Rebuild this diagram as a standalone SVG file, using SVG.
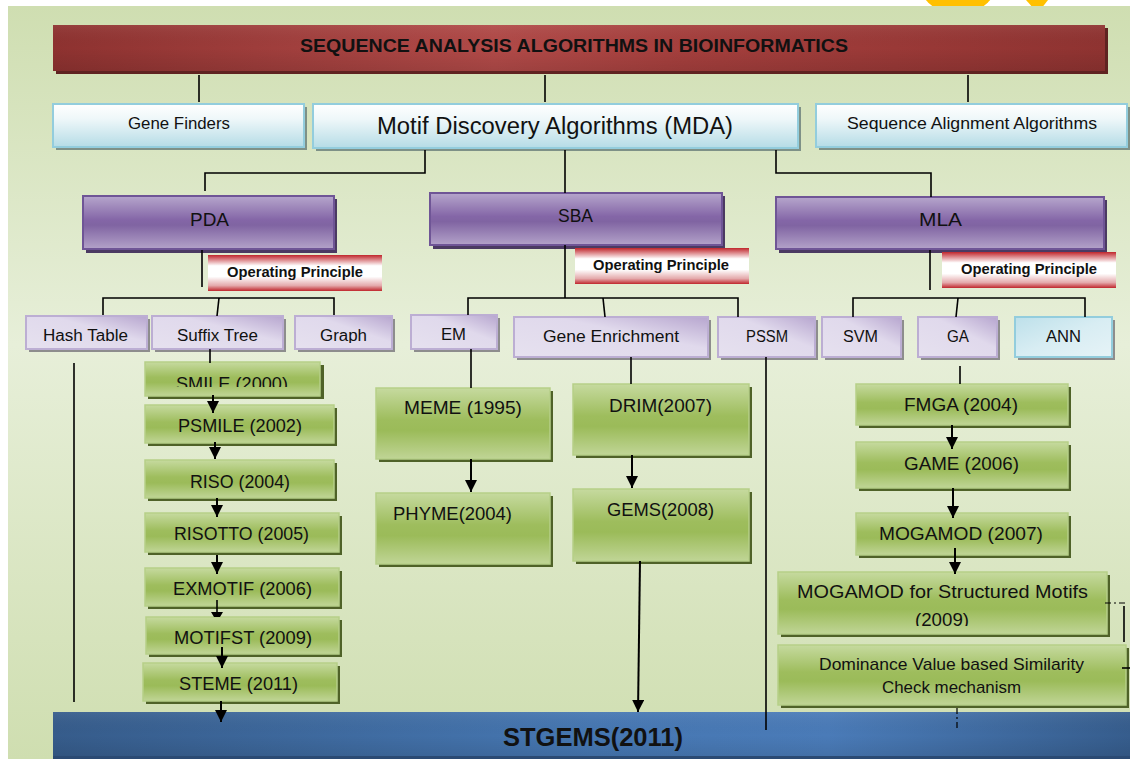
<svg xmlns="http://www.w3.org/2000/svg" width="1130" height="759" viewBox="0 0 1130 759">
  <defs>
    <linearGradient id="gBg" x1="0" y1="0" x2="0" y2="1">
      <stop offset="0" stop-color="#cfdeb1"/>
      <stop offset="0.45" stop-color="#e7efd9"/>
      <stop offset="1" stop-color="#cfdeb0"/>
    </linearGradient>
    <linearGradient id="gTitle" x1="0" y1="0" x2="1" y2="0">
      <stop offset="0" stop-color="#8e3230"/>
      <stop offset="0.42" stop-color="#b14a48"/>
      <stop offset="0.6" stop-color="#a53f3d"/>
      <stop offset="1" stop-color="#8f3331"/>
    </linearGradient>
    <linearGradient id="gShadeV" x1="0" y1="0" x2="0" y2="1">
      <stop offset="0" stop-color="#ffffff" stop-opacity="0.06"/>
      <stop offset="0.5" stop-color="#000000" stop-opacity="0"/>
      <stop offset="1" stop-color="#000000" stop-opacity="0.1"/>
    </linearGradient>
    <linearGradient id="gLb" x1="0" y1="0" x2="0" y2="1">
      <stop offset="0" stop-color="#ffffff"/>
      <stop offset="0.35" stop-color="#eef7f9"/>
      <stop offset="1" stop-color="#b5dce6"/>
    </linearGradient>
    <linearGradient id="gPur" x1="0" y1="0" x2="0" y2="1">
      <stop offset="0" stop-color="#b6a6cc"/>
      <stop offset="0.45" stop-color="#8466a7"/>
      <stop offset="0.55" stop-color="#8064a2"/>
      <stop offset="1" stop-color="#b3a2c9"/>
    </linearGradient>
    <linearGradient id="gOp" x1="0" y1="0" x2="0" y2="1">
      <stop offset="0" stop-color="#c0262c"/>
      <stop offset="0.3" stop-color="#ffffff"/>
      <stop offset="0.6" stop-color="#ffffff"/>
      <stop offset="0.85" stop-color="#e4a9ab"/>
      <stop offset="1" stop-color="#c0262c"/>
    </linearGradient>
    <linearGradient id="gLp" x1="0" y1="1" x2="1" y2="0">
      <stop offset="0" stop-color="#e6e1ef"/>
      <stop offset="0.6" stop-color="#e0d9ec"/>
      <stop offset="1" stop-color="#b7a6cf"/>
    </linearGradient>
    <linearGradient id="gAnn" x1="0" y1="0" x2="1" y2="1">
      <stop offset="0" stop-color="#bde0ea"/>
      <stop offset="0.5" stop-color="#d8edf3"/>
      <stop offset="1" stop-color="#e6f3f7"/>
    </linearGradient>
    <linearGradient id="gGrn" x1="0" y1="0" x2="0" y2="1">
      <stop offset="0" stop-color="#c6da9f"/>
      <stop offset="0.45" stop-color="#9ebd5d"/>
      <stop offset="0.6" stop-color="#9bbb59"/>
      <stop offset="1" stop-color="#c0d596"/>
    </linearGradient>
    <linearGradient id="gBlu" x1="0" y1="0" x2="1" y2="0">
      <stop offset="0" stop-color="#365c8b"/>
      <stop offset="0.5" stop-color="#4677b2"/>
      <stop offset="0.72" stop-color="#4a7bb8"/>
      <stop offset="1" stop-color="#365d8d"/>
    </linearGradient>
    <marker id="ah" markerWidth="12" markerHeight="12" refX="12" refY="6" orient="auto" markerUnits="userSpaceOnUse">
      <path d="M0,0 L12,6 L0,12 z" fill="#000"/>
    </marker>
    <clipPath id="clipGraph"><rect x="295" y="316" width="100" height="27"/></clipPath>
    <clipPath id="clipSmile"><rect x="145" y="362" width="180" height="25"/></clipPath>
    <clipPath id="clip2009"><rect x="778" y="600" width="330" height="26"/></clipPath>
  </defs>
  <style>
    .t { font-family: "Liberation Sans", Arial, sans-serif; fill: #111; text-anchor: middle; }
    .b { font-weight: bold; }
    .sh-lb { fill: #7e9187; }
    .bx-lb { fill: url(#gLb); stroke: #93cddd; stroke-width: 2; }
    .sh-p { fill: #4b3a62; }
    .bx-p { fill: url(#gPur); stroke: #6f5596; stroke-width: 2; }
    .bx-op { fill: url(#gOp); }
    .sh-lp { fill: #8d8d8d; }
    .bx-lp { fill: url(#gLp); stroke: #bcaed3; stroke-width: 2; }
    .bx-ann { fill: url(#gAnn); stroke: #93cddd; stroke-width: 2; }
    .sh-g { fill: #4f6228; }
    .bx-g { fill: url(#gGrn); stroke: #b6cf88; stroke-width: 1.5; }
    .ln { fill: none; stroke: #000; stroke-width: 1.6; }
    .ar { fill: none; stroke: #000; stroke-width: 2; marker-end: url(#ah); }
    .dd { fill: none; stroke: #000; stroke-width: 1.2; stroke-dasharray: 6 3 2 3; }
  </style>

  <!-- page and panel -->
  <g id="backdrop">
    <rect x="0" y="0" width="1130" height="759" fill="#ffffff"/>
    <circle cx="958" cy="-27" r="42" fill="#ffc000"/>
    <polygon points="1026,0 1048,0 1041,9 1034,9" fill="#ffc000"/>
    <rect x="8" y="6" width="1122" height="753" fill="url(#gBg)"/>
  </g>

  <!-- top heading -->
  <g id="n-title">
    <rect x="56" y="28" width="1052" height="46" fill="#5f2321"/>
    <rect x="53" y="25" width="1052" height="46" fill="url(#gTitle)"/>
    <rect x="53" y="25" width="1052" height="46" fill="url(#gShadeV)"/>
    <text class="t b" x="574" y="52" font-size="19" textLength="548" lengthAdjust="spacingAndGlyphs">SEQUENCE ANALYSIS ALGORITHMS IN BIOINFORMATICS</text>
  </g>

  <!-- second level -->
  <g id="n-gene-finders">
    <rect class="sh-lb" x="56" y="107" width="251" height="43"/>
    <rect class="bx-lb" x="53" y="104" width="251" height="43"/>
    <text class="t" x="179" y="129" font-size="16" textLength="102" lengthAdjust="spacingAndGlyphs">Gene Finders</text>
  </g>
  <g id="n-mda">
    <rect class="sh-lb" x="316" y="107" width="485" height="44"/>
    <rect class="bx-lb" x="313" y="104" width="485" height="44"/>
    <text class="t" x="555" y="134" font-size="23" textLength="356" lengthAdjust="spacingAndGlyphs">Motif Discovery Algorithms (MDA)</text>
  </g>
  <g id="n-saa">
    <rect class="sh-lb" x="819" y="107" width="311" height="43"/>
    <rect class="bx-lb" x="816" y="104" width="311" height="43"/>
    <text class="t" x="972" y="129" font-size="17" textLength="250" lengthAdjust="spacingAndGlyphs">Sequence Alignment Algorithms</text>
  </g>

  <!-- algorithm families -->
  <g id="n-pda">
    <rect class="sh-p" x="86" y="199" width="251" height="54"/>
    <rect class="bx-p" x="83" y="196" width="251" height="53"/>
    <text class="t" x="209.5" y="226" font-size="19" textLength="39" lengthAdjust="spacingAndGlyphs">PDA</text>
  </g>
  <g id="n-sba">
    <rect class="sh-p" x="433" y="196" width="292" height="53"/>
    <rect class="bx-p" x="430" y="193" width="292" height="52"/>
    <text class="t" x="575.5" y="222" font-size="19" textLength="35" lengthAdjust="spacingAndGlyphs">SBA</text>
  </g>
  <g id="n-mla">
    <rect class="sh-p" x="779" y="200" width="328" height="53"/>
    <rect class="bx-p" x="776" y="197" width="328" height="52"/>
    <text class="t" x="940.5" y="226" font-size="19" textLength="43" lengthAdjust="spacingAndGlyphs">MLA</text>
  </g>

  <!-- operating principle tags -->
  <g id="n-op-pda">
    <rect class="bx-op" x="208" y="255" width="174" height="36"/>
    <text class="t b" x="295" y="277" font-size="14.5" textLength="136" lengthAdjust="spacingAndGlyphs">Operating Principle</text>
  </g>
  <g id="n-op-sba">
    <rect class="bx-op" x="575" y="248" width="174" height="36"/>
    <text class="t b" x="661" y="270" font-size="14.5" textLength="136" lengthAdjust="spacingAndGlyphs">Operating Principle</text>
  </g>
  <g id="n-op-mla">
    <rect class="bx-op" x="942" y="252" width="174" height="36"/>
    <text class="t b" x="1029" y="274" font-size="14.5" textLength="136" lengthAdjust="spacingAndGlyphs">Operating Principle</text>
  </g>

  <!-- techniques -->
  <g id="n-hash-table">
    <rect class="sh-lp" x="29" y="319" width="121" height="33"/>
    <rect class="bx-lp" x="26" y="316" width="121" height="33"/>
    <text class="t" x="85.5" y="341" font-size="16" textLength="85" lengthAdjust="spacingAndGlyphs">Hash Table</text>
  </g>
  <g id="n-suffix-tree">
    <rect class="sh-lp" x="155" y="319" width="131" height="33"/>
    <rect class="bx-lp" x="152" y="316" width="131" height="33"/>
    <text class="t" x="217.5" y="341" font-size="16" textLength="81" lengthAdjust="spacingAndGlyphs">Suffix Tree</text>
  </g>
  <g id="n-graph">
    <rect class="sh-lp" x="298" y="319" width="97" height="33"/>
    <rect class="bx-lp" x="295" y="316" width="97" height="33"/>
    <text class="t" x="343.5" y="341" font-size="16" textLength="47" lengthAdjust="spacingAndGlyphs" clip-path="url(#clipGraph)">Graph</text>
  </g>
  <g id="n-em">
    <rect class="sh-lp" x="414" y="318" width="86" height="34"/>
    <rect class="bx-lp" x="411" y="315" width="86" height="34"/>
    <text class="t" x="453.5" y="340" font-size="16" textLength="25" lengthAdjust="spacingAndGlyphs">EM</text>
  </g>
  <g id="n-gene-enrichment">
    <rect class="sh-lp" x="517" y="320" width="194" height="40"/>
    <rect class="bx-lp" x="514" y="317" width="194" height="40"/>
    <text class="t" x="611" y="342" font-size="17" textLength="136" lengthAdjust="spacingAndGlyphs">Gene Enrichment</text>
  </g>
  <g id="n-pssm">
    <rect class="sh-lp" x="721" y="320" width="97" height="40"/>
    <rect class="bx-lp" x="718" y="317" width="97" height="40"/>
    <text class="t" x="767" y="342" font-size="16" textLength="42" lengthAdjust="spacingAndGlyphs">PSSM</text>
  </g>
  <g id="n-svm">
    <rect class="sh-lp" x="825" y="320" width="79" height="40"/>
    <rect class="bx-lp" x="822" y="317" width="79" height="40"/>
    <text class="t" x="860.5" y="342" font-size="16" textLength="35" lengthAdjust="spacingAndGlyphs">SVM</text>
  </g>
  <g id="n-ga">
    <rect class="sh-lp" x="921" y="320" width="79" height="40"/>
    <rect class="bx-lp" x="918" y="317" width="79" height="40"/>
    <text class="t" x="958" y="342" font-size="16" textLength="22" lengthAdjust="spacingAndGlyphs">GA</text>
  </g>
  <g id="n-ann">
    <rect class="sh-lp" x="1018" y="320" width="97" height="40"/>
    <rect class="bx-ann" x="1015" y="317" width="97" height="40"/>
    <text class="t" x="1063.5" y="342" font-size="16" textLength="35" lengthAdjust="spacingAndGlyphs">ANN</text>
  </g>

  <!-- suffix tree lineage -->
  <g id="n-smile">
    <rect class="sh-g" x="148" y="365" width="176" height="34"/>
    <rect class="bx-g" x="145" y="362" width="175" height="34"/>
    <text class="t" x="232" y="390" font-size="18" textLength="112" lengthAdjust="spacingAndGlyphs" clip-path="url(#clipSmile)">SMILE (2000)</text>
  </g>
  <g id="n-psmile">
    <rect class="sh-g" x="148" y="408" width="189" height="38"/>
    <rect class="bx-g" x="145" y="405" width="189" height="38"/>
    <text class="t" x="240" y="432" font-size="18" textLength="124" lengthAdjust="spacingAndGlyphs">PSMILE (2002)</text>
  </g>
  <g id="n-riso">
    <rect class="sh-g" x="148" y="463" width="189" height="38"/>
    <rect class="bx-g" x="145" y="460" width="189" height="38"/>
    <text class="t" x="240" y="488" font-size="18" textLength="100" lengthAdjust="spacingAndGlyphs">RISO (2004)</text>
  </g>
  <g id="n-risotto">
    <rect class="sh-g" x="148" y="516" width="194" height="39"/>
    <rect class="bx-g" x="145" y="513" width="194" height="39"/>
    <text class="t" x="241.5" y="540" font-size="18" textLength="135" lengthAdjust="spacingAndGlyphs">RISOTTO (2005)</text>
  </g>
  <g id="n-exmotif">
    <rect class="sh-g" x="148" y="571" width="194" height="38"/>
    <rect class="bx-g" x="145" y="568" width="194" height="38"/>
    <text class="t" x="242.5" y="595" font-size="18" textLength="139" lengthAdjust="spacingAndGlyphs">EXMOTIF (2006)</text>
  </g>
  <g id="n-motifst">
    <rect class="sh-g" x="149" y="620" width="193" height="37"/>
    <rect class="bx-g" x="146" y="617" width="193" height="37"/>
    <text class="t" x="243" y="644" font-size="18" textLength="138" lengthAdjust="spacingAndGlyphs">MOTIFST (2009)</text>
  </g>
  <g id="n-steme">
    <rect class="sh-g" x="146" y="666" width="194" height="38"/>
    <rect class="bx-g" x="143" y="663" width="194" height="38"/>
    <text class="t" x="238.5" y="690" font-size="18" textLength="119" lengthAdjust="spacingAndGlyphs">STEME (2011)</text>
  </g>

  <!-- EM and gene enrichment lineages -->
  <g id="n-meme">
    <rect class="sh-g" x="379" y="391" width="174" height="71"/>
    <rect class="bx-g" x="376" y="388" width="174" height="71"/>
    <text class="t" x="463" y="414" font-size="18" textLength="118" lengthAdjust="spacingAndGlyphs">MEME (1995)</text>
  </g>
  <g id="n-phyme">
    <rect class="sh-g" x="379" y="496" width="174" height="71"/>
    <rect class="bx-g" x="376" y="493" width="174" height="71"/>
    <text class="t" x="452.5" y="520" font-size="18" textLength="119" lengthAdjust="spacingAndGlyphs">PHYME(2004)</text>
  </g>
  <g id="n-drim">
    <rect class="sh-g" x="576" y="387" width="176" height="71"/>
    <rect class="bx-g" x="573" y="384" width="176" height="71"/>
    <text class="t" x="660.5" y="412" font-size="18" textLength="103" lengthAdjust="spacingAndGlyphs">DRIM(2007)</text>
  </g>
  <g id="n-gems">
    <rect class="sh-g" x="576" y="492" width="176" height="72"/>
    <rect class="bx-g" x="573" y="489" width="176" height="72"/>
    <text class="t" x="660.5" y="516" font-size="18" textLength="107" lengthAdjust="spacingAndGlyphs">GEMS(2008)</text>
  </g>

  <!-- genetic algorithm lineage -->
  <g id="n-fmga">
    <rect class="sh-g" x="859" y="387" width="212" height="41"/>
    <rect class="bx-g" x="856" y="384" width="212" height="41"/>
    <text class="t" x="961" y="411" font-size="18" textLength="114" lengthAdjust="spacingAndGlyphs">FMGA (2004)</text>
  </g>
  <g id="n-game">
    <rect class="sh-g" x="859" y="445" width="212" height="46"/>
    <rect class="bx-g" x="856" y="442" width="212" height="46"/>
    <text class="t" x="961.5" y="470" font-size="18" textLength="115" lengthAdjust="spacingAndGlyphs">GAME (2006)</text>
  </g>
  <g id="n-mogamod">
    <rect class="sh-g" x="859" y="516" width="212" height="42"/>
    <rect class="bx-g" x="856" y="513" width="212" height="42"/>
    <text class="t" x="961" y="540" font-size="18" textLength="164" lengthAdjust="spacingAndGlyphs">MOGAMOD (2007)</text>
  </g>
  <g id="n-mogamod-sm">
    <rect class="sh-g" x="781" y="575" width="329" height="62"/>
    <rect class="bx-g" x="778" y="572" width="329" height="62"/>
    <text class="t" x="942.5" y="598" font-size="19" textLength="291" lengthAdjust="spacingAndGlyphs">MOGAMOD for Structured Motifs</text>
    <text class="t" x="942" y="626" font-size="19" textLength="54" lengthAdjust="spacingAndGlyphs" clip-path="url(#clip2009)">(2009)</text>
  </g>
  <g id="n-dominance">
    <rect class="sh-g" x="781" y="648" width="348" height="60"/>
    <rect class="bx-g" x="778" y="645" width="348" height="60"/>
    <text class="t" x="951.5" y="670" font-size="17" textLength="265" lengthAdjust="spacingAndGlyphs">Dominance Value based Similarity</text>
    <text class="t" x="951.5" y="693" font-size="17" textLength="139" lengthAdjust="spacingAndGlyphs">Check mechanism</text>
  </g>

  <!-- converged result -->
  <g id="n-stgems">
    <rect x="53" y="712" width="1077" height="47" fill="url(#gBlu)"/>
    <rect x="53" y="712" width="1077" height="47" fill="url(#gShadeV)"/>
    <rect x="53" y="756" width="1077" height="3" fill="#2b4a73"/>
    <text class="t b" x="593" y="746" font-size="25" textLength="180" lengthAdjust="spacingAndGlyphs">STGEMS(2011)</text>
  </g>

  <g id="connectors">
    <!-- heading to second level -->
    <line class="ln" x1="199" y1="75" x2="199" y2="102"/>
    <line class="ln" x1="545" y1="75" x2="545" y2="102"/>
    <line class="ln" x1="968" y1="75" x2="968" y2="102"/>
    <!-- MDA to families -->
    <polyline class="ln" points="425,150 425,173 205,173 205,191"/>
    <line class="ln" x1="565" y1="150" x2="565" y2="193"/>
    <polyline class="ln" points="776,150 776,173 931,173 931,197"/>
    <!-- PDA branch -->
    <line class="ln" x1="202" y1="250" x2="202" y2="287"/>
    <polyline class="ln" points="103,315 103,298 334,298 334,315"/>
    <line class="ln" x1="219" y1="298" x2="217" y2="316"/>
    <!-- SBA branch -->
    <line class="ln" x1="565" y1="245" x2="565" y2="298"/>
    <polyline class="ln" points="468,315 468,298 738,298 738,317"/>
    <line class="ln" x1="603" y1="298" x2="605" y2="317"/>
    <!-- MLA branch -->
    <line class="ln" x1="930" y1="250" x2="930" y2="290"/>
    <polyline class="ln" points="853,317 853,298 1085,298 1085,317"/>
    <line class="ln" x1="958" y1="298" x2="956" y2="317"/>
    <!-- technique stems -->
    <line class="ln" x1="74" y1="363" x2="74" y2="702"/>
    <line class="ln" x1="210" y1="349" x2="210" y2="363"/>
    <line class="ln" x1="471" y1="349" x2="471" y2="388"/>
    <line class="ln" x1="631" y1="357" x2="631" y2="384"/>
    <line class="ln" x1="766" y1="357" x2="766" y2="730"/>
    <line class="ln" x1="960" y1="366" x2="960" y2="384"/>
    <!-- suffix tree lineage arrows -->
    <line class="ar" x1="213" y1="395" x2="213" y2="413"/>
    <line class="ar" x1="215" y1="442" x2="215" y2="459"/>
    <line class="ar" x1="217" y1="498" x2="217" y2="517"/>
    <line class="ar" x1="217" y1="555" x2="217" y2="574"/>
    <line class="ln" x1="217" y1="600" x2="217" y2="613" stroke-width="2"/>
    <polygon points="211,612 223,612 220,617 214,617" fill="#000"/>
    <line class="ar" x1="222" y1="647" x2="222" y2="668"/>
    <line class="ar" x1="221" y1="701" x2="221" y2="722"/>
    <!-- EM and gene enrichment arrows -->
    <line class="ar" x1="471" y1="459" x2="471" y2="492"/>
    <line class="ar" x1="632" y1="455" x2="632" y2="488"/>
    <line class="ar" x1="640" y1="561" x2="638" y2="712"/>
    <!-- GA lineage arrows -->
    <line class="ar" x1="952" y1="425" x2="952" y2="449"/>
    <line class="ar" x1="953" y1="488" x2="953" y2="518"/>
    <line class="ar" x1="955" y1="548" x2="955" y2="574"/>
    <!-- bracket at the right edge -->
    <line class="dd" x1="1105" y1="603" x2="1125" y2="603"/>
    <line class="ln" x1="1124" y1="606" x2="1124" y2="642"/>
    <line class="ln" x1="1122" y1="668" x2="1130" y2="668"/>
    <line class="dd" x1="957" y1="708" x2="957" y2="729"/>
  </g>
</svg>
